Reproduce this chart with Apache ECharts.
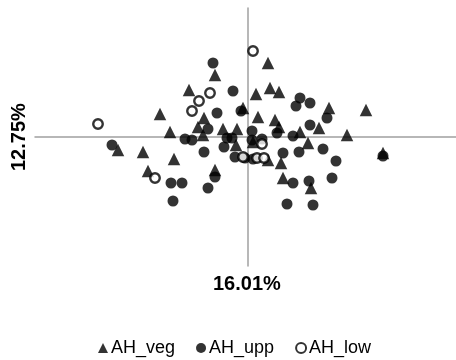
<!DOCTYPE html>
<html><head><meta charset="utf-8">
<script src="https://cdn.jsdelivr.net/npm/echarts@6/dist/echarts.min.js"></script>
<style>html,body{margin:0;padding:0;background:#fff}#c{width:456px;height:360px}</style>
</head><body><div id="c"></div>
<script>
var seriesNames = ['AH_veg', 'AH_upp', 'AH_low'];
var xAxisTitle = '16.01%';
var yAxisTitle = '12.75%';
var vegData = [
  [-0.65,1.23],[0.41,1.47],[-1.17,0.93],[0.45,0.97],[0.63,0.89],[0.17,0.85],[-0.09,0.57],
  [-1.75,0.45],[-0.87,0.37],[0.21,0.39],[0.55,0.33],[1.63,0.57],[2.37,0.53],[-1.55,0.09],
  [-0.99,0.19],[-0.49,0.15],[-0.21,0.15],[0.63,0.19],[1.43,0.17],[1.05,0.09],[1.99,0.03],
  [-2.59,-0.27],[-2.09,-0.31],[-1.47,-0.45],[-1.99,-0.69],[-0.65,-0.67],[0.11,-0.11],
  [1.21,-0.13],[0.41,-0.47],[0.67,-0.53],[0.71,-0.83],[1.27,-1.03],[2.71,-0.33],
  [-0.89,0.03],[-0.23,-0.17]
];
var uppData = [
  [-0.69,1.47],[-0.29,0.91],[1.05,0.77],[1.25,0.67],[0.97,0.61],[1.59,0.37],[-0.13,0.51],
  [-0.61,0.47],[-0.79,0.15],[1.25,0.23],[0.09,0.11],[0.59,0.07],[0.91,0.01],[0.29,-0.05],
  [-1.25,-0.05],[-1.11,-0.07],[-0.31,-0.03],[-2.71,-0.17],[-0.87,-0.31],[-0.47,-0.21],
  [-0.25,-0.41],[-0.05,-0.43],[0.11,-0.45],[0.09,-0.07],[1.03,-0.31],[0.71,-0.33],
  [1.51,-0.25],[1.77,-0.49],[2.71,-0.39],[-1.53,-0.93],[-1.31,-0.93],[-0.65,-0.81],
  [-0.79,-1.03],[-1.49,-1.29],[0.91,-0.93],[1.23,-0.89],[1.69,-0.83],[0.79,-1.35],
  [1.31,-1.37],[-0.41,-0.03]
];
var lowData = [
  [0.11,1.71],[-0.75,0.87],[-0.97,0.71],[-1.11,0.51],[-2.99,0.25],[-1.85,-0.83],
  [0.29,-0.15],[-0.09,-0.41],[0.19,-0.43],[0.33,-0.43]
];
var font = 'Arial, "Liberation Sans", sans-serif';
var chart = echarts.init(document.getElementById('c'), null, {renderer: 'canvas'});
chart.setOption({
  animation: false,
  backgroundColor: '#fff',
  grid: {left: 35, right: 0, top: 8, bottom: 94, containLabel: false},
  xAxis: {
    type: 'value', min: -4.25, max: 4.17,
    axisLine: {onZero: true, lineStyle: {color: '#a0a0a0', width: 1.5}},
    axisTick: {show: false}, axisLabel: {show: false}, splitLine: {show: false}
  },
  yAxis: {
    type: 'value', min: -2.59, max: 2.57,
    axisLine: {show: true, onZero: true, lineStyle: {color: '#a0a0a0', width: 1.5}},
    axisTick: {show: false}, axisLabel: {show: false}, splitLine: {show: false}
  },
  legend: {
    left: 93, top: 334, itemWidth: 10, itemHeight: 10, itemGap: 21,
    textStyle: {fontFamily: font, fontSize: 18, color: '#000', padding: [0, 0, 0, -2]},
    data: seriesNames
  },
  graphic: [
    {type: 'text', left: 213, top: 274, style: {text: xAxisTitle, font: 'bold 20px ' + font, fill: '#000'}},
    {type: 'text', x: 9, y: 171, rotation: Math.PI / 2, style: {text: yAxisTitle, font: 'bold 20px ' + font, fill: '#000'}}
  ],
  series: [
    {name: seriesNames[0], type: 'scatter', symbol: 'triangle', symbolSize: 12.5,
     itemStyle: {color: '#000'}, data: vegData},
    {name: seriesNames[1], type: 'scatter', symbol: 'circle', symbolSize: 11,
     itemStyle: {color: '#000'}, data: uppData},
    {name: seriesNames[2], type: 'scatter', symbol: 'circle', symbolSize: 9.5,
     itemStyle: {color: '#fff', borderColor: '#000', borderWidth: 2.4}, data: lowData}
  ]
});
</script></body></html>
